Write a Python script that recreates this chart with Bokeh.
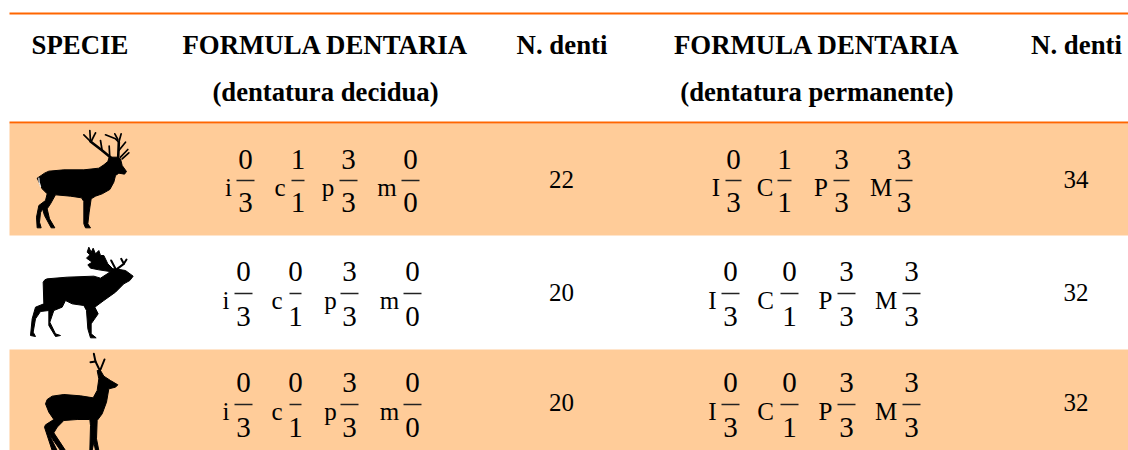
from bokeh.plotting import figure
from bokeh.models import Range1d
from bokeh.core.properties import value
from bokeh.embed import file_html
from bokeh.resources import INLINE

# --- table content ---
header_line1 = ["SPECIE", "FORMULA DENTARIA", "N. denti", "FORMULA DENTARIA", "N. denti"]
header_line2 = ["(dentatura decidua)", "(dentatura permanente)"]
decid_letters = ["i", "c", "p", "m"]
perm_letters = ["I", "C", "P", "M"]
decid_num = [["0", "1", "3", "0"], ["0", "0", "3", "0"], ["0", "0", "3", "0"]]
decid_den = [["3", "1", "3", "0"], ["3", "1", "3", "0"], ["3", "1", "3", "0"]]
perm_num = [["0", "1", "3", "3"], ["0", "0", "3", "3"], ["0", "0", "3", "3"]]
perm_den = [["3", "1", "3", "3"], ["3", "1", "3", "3"], ["3", "1", "3", "3"]]
decid_total = ["22", "20", "20"]
perm_total = ["34", "32", "32"]

# --- silhouettes, traced outlines ---
deer1_body = [(50,158),(62,150),(72,143),(85,137),(130,133),(190,133),(235,128),(250,118),(262,108),(266,95),(290,95),(300,100),(305,120),(318,138),(312,146),(295,143),(285,150),(280,170),(268,192),(245,205),(225,212),(212,220),(206,260),(202,295),(210,307),(195,307),(190,295),(190,228),(183,217),(150,212),(105,208),(90,235),(80,250),(87,280),(103,307),(92,307),(72,270),(66,250),(60,262),(57,290),(62,307),(50,307),(48,275),(55,240),(75,225),(80,205),(65,190),(58,175)]
deer1_beams = [[(275,100),(245,75),(210,48)],[(293,98),(295,50)]]
deer1_tines = [[(210,48),(190,28)],[(210,48),(208,15)],[(212,48),(225,22)],[(245,75),(240,45)],[(268,98),(266,62)],[(295,50),(285,40),(255,28)],[(292,42),(283,25)],[(295,50),(302,25)],[(295,75),(315,50)],[(300,95),(322,72)],[(305,100),(325,82)]]
deer1_tail = [[(55,158),(56,170),(60,183)]]
deer2_body = [(128,140),(133,133),(140,130),(200,125),(280,122),(300,128),(325,112),(335,100),(345,100),(375,105),(398,122),(388,135),(370,145),(345,170),(310,195),(283,215),(293,235),(272,265),(272,295),(287,307),(270,307),(262,280),(258,225),(250,210),(215,205),(195,195),(185,215),(160,225),(148,260),(165,295),(180,300),(165,303),(145,270),(145,225),(120,228),(105,250),(98,290),(105,303),(90,300),(95,250),(105,215),(130,205)]
deer2_palm = [(265,35),(272,50),(278,38),(285,55),(295,45),(300,60),(310,60),(322,85),(337,100),(328,108),(295,103),(270,98),(262,88),(275,80),(258,68),(268,58),(260,50)]
deer2_antlers = [[(345,100),(332,75)],[(350,100),(370,85),(362,70)],[(370,85),(378,72)]]
deer3_body = [(135,175),(140,162),(155,152),(190,147),(240,151),(278,157),(290,135),(295,100),(290,75),(300,75),(310,92),(330,105),(352,118),(345,125),(325,130),(318,170),(305,205),(290,225),(288,280),(295,315),(285,315),(280,290),(275,315),(268,315),(270,240),(268,222),(230,222),(190,225),(170,245),(160,262),(195,315),(180,315),(145,265),(170,315),(155,315),(132,245),(135,238),(160,222),(145,200)]
deer3_antlers = [[(298,75),(285,48),(280,25)],[(285,48),(270,50)],[(300,72),(312,42)]]

# --- layout (page pixels) ---
FONT = value("Liberation Serif")
ORANGE, BAND = "#FF6600", "#FFCC99"
LEFT, RIGHT, BOTTOM = 9, 1128, 450
p = figure(width=1128, height=450, x_range=Range1d(0, 1128), y_range=Range1d(450, 0),
           output_backend="svg", toolbar_location=None, min_border=0,
           background_fill_color="white", border_fill_color="white")
p.axis.visible = False
p.grid.visible = False
p.outline_line_color = None

p.quad(left=[LEFT, LEFT], right=[RIGHT, RIGHT], top=[123, 349], bottom=[235, BOTTOM],
       fill_color=BAND, line_color=None)
p.quad(left=[LEFT, LEFT], right=[RIGHT, RIGHT], top=[12, 121], bottom=[14, 123],
       fill_color=ORANGE, line_color=None)

p.text(x=[79.5, 325, 561.5, 816.5, 1076], y=[44.5]*5, text=header_line1, text_font=FONT,
       text_font_style="bold", text_font_size="26.8px", text_align="center", text_baseline="middle",
       text_color="black")
p.text(x=[325, 816.5], y=[91.5]*2, text=header_line2, text_font=FONT, text_font_style="bold",
       text_font_size="26.7px", text_align="center", text_baseline="middle", text_color="black")

rows_y = [(159, 180, 202, 187), (271, 293, 316, 300), (382, 404, 427, 411)]
decid_x = [
    ([228, 279.5, 327.5, 386.5], [(236, 254), (291, 304), (339, 357), (401, 419)]),
    ([225.5, 276.5, 330, 389], [(234, 252), (289, 301), (340, 358), (403, 421)]),
    ([225.5, 276.5, 330, 389], [(234, 252), (289, 301), (340, 358), (403, 421)]),
]
perm_x = [
    ([715.5, 764.5, 820.5, 880.5], [(725, 741), (777, 791), (833, 849), (895, 912)]),
    ([712, 765, 825, 885.5], [(721, 739), (780, 798), (837, 855), (902, 920)]),
    ([712, 765, 825, 885.5], [(721, 739), (780, 798), (837, 855), (902, 920)]),
]

def formula(letters, nums, dens, xs):
    for r, (yn, yb, yd, yl) in enumerate(rows_y):
        lx, bars = xs[r]
        p.text(x=lx, y=[yl]*4, text=letters, text_font=FONT, text_font_size="25px",
               text_align="center", text_baseline="alphabetic", text_color="black")
        cx = [(a+b)/2 for a, b in bars]
        p.text(x=cx, y=[yn]*4, text=nums[r], text_font=FONT, text_font_size="29px",
               text_align="center", text_baseline="middle", text_color="black")
        p.text(x=cx, y=[yd]*4, text=dens[r], text_font=FONT, text_font_size="29px",
               text_align="center", text_baseline="middle", text_color="black")
        p.segment(x0=[a for a, b in bars], x1=[b for a, b in bars], y0=[yb]*4, y1=[yb]*4,
                  line_color="#222222", line_width=1.5)

formula(decid_letters, decid_num, decid_den, decid_x)
formula(perm_letters, perm_num, perm_den, perm_x)

row_mid = [178.5, 291.5, 401.5]
p.text(x=[561]*3, y=row_mid, text=decid_total, text_font=FONT, text_font_size="25px",
       text_align="center", text_baseline="middle", text_color="black")
p.text(x=[1075.5]*3, y=row_mid, text=perm_total, text_font=FONT, text_font_size="25px",
       text_align="center", text_baseline="middle", text_color="black")

def sil(poly, x0, y0):
    p.patch([x0 + a/3 for a, b in poly], [y0 + b/3 for a, b in poly], fill_color="black",
            line_color="black", line_width=1, line_join="round")

def ant(lines, x0, y0, w, color="black"):
    p.multi_line([[x0 + a/3 for a, b in l] for l in lines], [[y0 + b/3 for a, b in l] for l in lines],
                 line_color=color, line_width=w, line_join="round", line_cap="round")

sil(deer1_body, 20, 125); ant(deer1_beams, 20, 125, 2.6); ant(deer1_tines, 20, 125, 1.7)
ant(deer1_tail, 20, 125, 1.2, "#e8e8e8")
sil(deer2_body, 0, 235); sil(deer2_palm, 0, 235); ant(deer2_antlers, 0, 235, 2)
sil(deer3_body, 0, 345); ant(deer3_antlers, 0, 345, 2)

open("out.html", "w").write(file_html(p, INLINE))
